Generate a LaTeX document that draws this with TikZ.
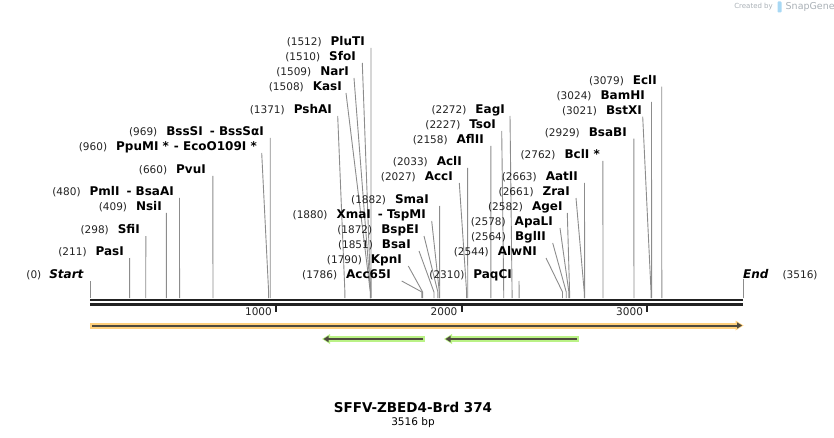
\documentclass[tikz,border=0pt]{standalone}
\usepackage{fontspec}
\setmainfont{DejaVu Sans}
\usetikzlibrary{arrows.meta,positioning}
\definecolor{cutgray}{HTML}{8C8C8C}
\definecolor{numgray}{HTML}{222222}
\definecolor{bbblack}{HTML}{222222}
\definecolor{orangeband}{HTML}{FFD07C}
\definecolor{greenband}{HTML}{BAF286}
\definecolor{featdark}{HTML}{4E4A3E}
\definecolor{markgray}{HTML}{A9B0B6}
\definecolor{markblue}{HTML}{A8D8F4}
\newcommand{\numfont}{\fontsize{10.5}{12}\selectfont\mdseries\color{numgray}}
\newcommand{\namefont}{\fontsize{12}{14}\selectfont\bfseries}

\begin{document}
\begin{tikzpicture}[x=1pt,y=-1pt,
    sitelbl/.style={anchor=east, inner sep=0pt, font=\namefont},
    cutline/.style={cutgray, line width=0.9pt},
    backbone/.style={bbblack, line width=2.3pt},
    tickmark/.style={bbblack, line width=2pt},
    ticklbl/.style={anchor=east, inner sep=0pt, font=\numfont},
    featband/.style={line width=6pt},
    featline/.style={featdark, line width=2pt}]
\useasboundingbox (0,0) rectangle (834,438);

% backbone
\coordinate (bbL) at (90,300);
\coordinate (bbR) at (743,300);
\draw[backbone] (bbL) -- (bbR);
\draw[backbone] ([yshift=-4.5pt]bbL) -- ([yshift=-4.5pt]bbR);

% ticks
\foreach \t in {1000,2000,3000}{
  \coordinate (k\t) at (90.5+0.18555*\t,306);
  \draw[tickmark] (k\t) -- ++(0,6);
  \node[ticklbl] (kl\t) at (90.5+0.18555*\t-4,311.5) {\t};
}

% start and end
\node[sitelbl] (lstart) at (84,275) {{\numfont(0)}\hspace{8pt}\textit{Start}};
\coordinate (tstart) at (90.5,281);
\coordinate (sstart) at (90.5,298);
\draw[cutline] (tstart) -- (sstart);
\node[anchor=west, inner sep=0pt, font=\namefont] (lend) at (743,275) {\textit{End}\hspace{14pt}{\numfont(3516)}};
\coordinate (tend) at (743,279);
\coordinate (send) at (743,298);
\draw[cutline] (tend) -- (send);

% cut sites: bp / label end / label y / line top
\foreach \bp/\ex/\ly/\tx/\nm in {
  211/124/252/129.6/PasI,
  298/140/230/145.8/SfiI,
  409/162/207/166.4/NsiI,
  480/174/192/179.5/{PmlI\hspace{7pt}- BsaAI},
  660/206/170/212.9/PvuI,
  960/257/147/261.7/{PpuMI *\hspace{5pt}- EcoO109I *},
  969/264/132/270.2/{BssSI\hspace{7pt}- BssSαI},
  1371/332/110/337.7/PshAI,
  1508/342/87/346/KasI,
  1509/349/72/354/NarI,
  1510/356/57/362.3/SfoI,
  1512/365/42/371/PluTI,
  1786/391/275/401.7/Acc65I,
  1790/402/260/408.3/KpnI,
  1851/411/245/419/BsaI,
  1872/419/230/424/BspEI,
  1880/426/215/431.7/{XmaI\hspace{7pt}- TspMI},
  1882/429/200/439.6/SmaI,
  2027/453/177/459.3/AccI,
  2033/462/162/467.6/AclI,
  2158/484/140/490.8/AflII,
  2227/496/125/501.7/TsoI,
  2272/505/110/510/EagI,
  2310/512/275/519/PaqCI,
  2544/537/252/546/AlwNI,
  2564/546/237/552.7/BglII,
  2578/553/222/560/ApaLI,
  2582/562.7/207/567.3/AgeI,
  2661/570/192/576/ZraI,
  2663/578/177/584.5/AatII,
  2762/600/155/602.9/{BclI *},
  2929/627/132.7/633.8/BsaBI,
  3021/642/110.7/642.7/BstXI,
  3024/645/96/651.5/BamHI,
  3079/657/80.7/661.7/EclI}{
  \node[sitelbl] (l\bp) at (\ex,\ly) {{\numfont(\bp)}\hspace{9pt}\nm};
  \coordinate (t\bp) at (\tx,\ly+6);
  \coordinate (b\bp) at (90.5+0.18555*\bp,292);
  \coordinate (s\bp) at (90.5+0.18555*\bp,298);
  \draw[cutline] (t\bp) -- (b\bp) -- (s\bp);
}

% features
\coordinate (orfA) at (90,325.5);
\coordinate (orfB) at (743.5,325.5);
\draw[featband, orangeband] (orfA) -- ([xshift=-6pt]orfB);
\fill[orangeband] ([xshift=-8pt,yshift=5pt]orfB) -- (orfB) -- ([xshift=-8pt,yshift=-5pt]orfB) -- cycle;
\draw[featline, -{Triangle[length=5pt,width=6pt]}] ([xshift=2pt]orfA) -- ([xshift=-1.5pt]orfB);

\foreach \fa/\fb in {322/425,444/579}{
  \coordinate (gA\fa) at (\fa,339);
  \coordinate (gB\fa) at (\fb,339);
  \draw[featband, greenband] ([xshift=6pt]gA\fa) -- (gB\fa);
  \fill[greenband] ([xshift=8pt,yshift=5pt]gA\fa) -- (gA\fa) -- ([xshift=8pt,yshift=-5pt]gA\fa) -- cycle;
  \draw[featline, -{Triangle[length=5pt,width=6pt]}] ([xshift=-2pt]gB\fa) -- ([xshift=1.5pt]gA\fa);
}

% title
\node[inner sep=0pt, font=\fontsize{13.5}{16}\selectfont\bfseries] (title) at (413,407) {SFFV-ZBED4-Brd 374};
\node[inner sep=0pt, font=\fontsize{10.5}{12}\selectfont, below=4.5pt of title] (bplen) {3516 bp};

% watermark
\node[anchor=east, inner sep=0pt, font=\fontsize{7}{8}\selectfont, markgray] (mark1) at (773,7) {Created by};
\fill[markblue, rounded corners=0.8pt] (777.5,1.5) rectangle (781.5,12.5);
\node[anchor=west, inner sep=0pt, font=\fontsize{9.5}{11}\selectfont, markgray] (mark2) at (785.5,7) {SnapGene};
\end{tikzpicture}
\end{document}
